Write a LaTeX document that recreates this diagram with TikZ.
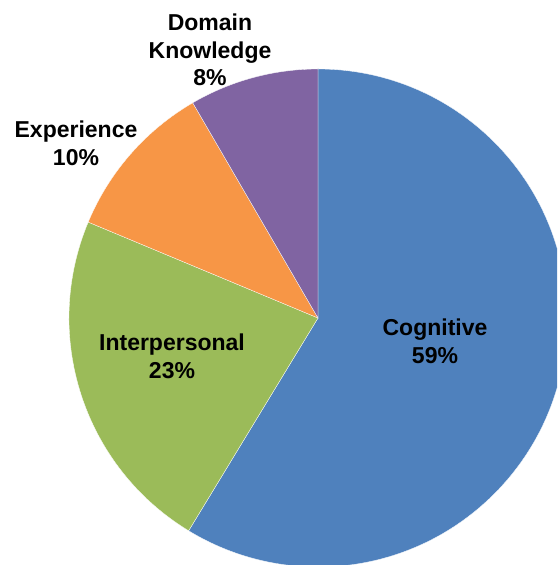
\documentclass[tikz,border=0pt]{standalone}
\usepackage{fontspec}
\setmainfont{Liberation Sans}
\usetikzlibrary{positioning}

\definecolor{cogblue}{HTML}{4F81BD}
\definecolor{intgreen}{HTML}{9BBB59}
\definecolor{exporange}{HTML}{F79646}
\definecolor{dompurple}{HTML}{8064A2}

\begin{document}
\begin{tikzpicture}[x=1pt, y=1pt,
        slice/.style = {draw=white, line width=0.3pt},
        lab/.style = {font=\bfseries\fontsize{23}{27.6}\selectfont, align=center, inner sep=0pt}]
                \useasboundingbox (0,0) rectangle (557,565);
                \clip (0,0) rectangle (557,565);
                \coordinate (O) at (318, 247);

                \filldraw[slice, fill=cogblue] (O) -- ++(90:249pt) arc[start angle=90, end angle=-121.3, radius=249pt] -- cycle;
                \filldraw[slice, fill=intgreen] (O) -- ++(-121.3:249pt) arc[start angle=-121.3, end angle=-202.65, radius=249pt] -- cycle;
                \filldraw[slice, fill=exporange] (O) -- ++(-202.65:249pt) arc[start angle=-202.65, end angle=-239.8, radius=249pt] -- cycle;
                \filldraw[slice, fill=dompurple] (O) -- ++(-239.8:249pt) arc[start angle=-239.8, end angle=-270, radius=249pt] -- cycle;

                \node[lab] at (435, 224) (cog) {Cognitive\\59\%};
                \node[lab] at (172, 208.5) (inter) {Interpersonal\\23\%};
                \node[lab] at (76, 422) (exp) {Experience\\10\%};
                \node[lab] at (210, 515) (dom) {Domain\\Knowledge\\8\%};
            \end{tikzpicture}
\end{document}
